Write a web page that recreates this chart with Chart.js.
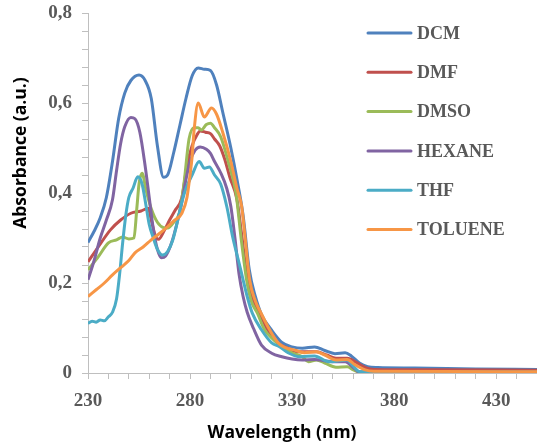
<!DOCTYPE html>
<html>
<head>
<meta charset="utf-8">
<script src="https://cdn.jsdelivr.net/npm/chart.js@4.4.1/dist/chart.umd.min.js"></script>
<style>
  html, body { margin: 0; padding: 0; background: #fff; }
  #wrap { width: 537px; height: 445px; position: relative; }
</style>
</head>
<body>
<div id="wrap"><canvas id="myChart"></canvas></div>
<script>
// data: [wavelength nm, absorbance]

const seriesNames = ["DCM", "DMF", "DMSO", "HEXANE", "THF", "TOLUENE"];
const seriesColors = ["#4F81BD", "#C0504D", "#9BBB59", "#8064A2", "#4BACC6", "#F79646"];

const DCM = [[230,0.29],[233,0.315],[236,0.345],[239,0.39],[242,0.47],[245,0.565],[248,0.622],[251,0.65],[255,0.662],[258,0.65],[261,0.61],[264,0.505],[267,0.435],[269,0.44],[272,0.49],[275,0.55],[278,0.61],[281,0.66],[284,0.678],[287,0.675],[290,0.672],[293,0.64],[296,0.58],[300,0.5],[303,0.43],[306,0.35],[309,0.23],[312,0.17],[315,0.13],[320,0.095],[325,0.068],[330,0.058],[335,0.055],[341,0.058],[346,0.05],[351,0.043],[356,0.045],[359,0.038],[363,0.022],[367,0.014],[372,0.012],[390,0.011],[420,0.009],[450,0.008]];

const DMF = [[230,0.247],[235,0.28],[241,0.318],[246,0.34],[251,0.355],[256,0.36],[259.5,0.366],[261,0.34],[263,0.305],[264.5,0.297],[267.5,0.318],[270,0.34],[272.5,0.36],[276,0.39],[278.5,0.46],[281,0.505],[283.5,0.53],[285,0.538],[287.5,0.535],[290,0.532],[292,0.52],[294.5,0.505],[297,0.475],[299.5,0.435],[303,0.385],[305.5,0.3],[308,0.21],[311,0.16],[314,0.133],[318,0.096],[323,0.067],[328,0.055],[333,0.047],[342,0.047],[347,0.04],[351.5,0.033],[357,0.033],[362,0.022],[366,0.012],[370,0.008],[400,0.007],[450,0.006]];

const DMSO = [[230,0.229],[235,0.258],[240,0.289],[244,0.296],[247,0.302],[250,0.298],[252.5,0.3],[254,0.37],[255,0.42],[256.5,0.444],[258.5,0.405],[261,0.365],[264,0.335],[267,0.323],[269,0.322],[272,0.335],[275,0.36],[277,0.42],[279.5,0.52],[282,0.545],[284,0.545],[285.5,0.54],[288,0.552],[290,0.555],[292,0.545],[295,0.525],[299,0.465],[302.5,0.4],[305,0.3],[307.7,0.207],[310,0.16],[313,0.133],[316.5,0.096],[320,0.078],[324,0.062],[330,0.045],[335,0.036],[338,0.025],[342,0.029],[346,0.022],[351.5,0.013],[357,0.014],[360,0.007],[363,0.002],[450,0.001]];

const HEXANE = [[230,0.207],[233,0.25],[236,0.3],[239,0.34],[242,0.385],[244,0.45],[246,0.51],[248,0.547],[251,0.568],[253,0.565],[255.4,0.535],[258,0.46],[260,0.39],[262,0.32],[264,0.275],[266,0.256],[268,0.26],[271,0.29],[274,0.34],[276,0.38],[278,0.43],[280,0.47],[282.5,0.495],[285,0.502],[288,0.497],[290,0.488],[292,0.47],[295,0.445],[298,0.41],[300,0.37],[302,0.3],[304,0.22],[306,0.17],[308,0.135],[311,0.1],[315,0.062],[320,0.044],[325,0.036],[330,0.031],[335,0.029],[341,0.03],[345,0.028],[350,0.025],[356,0.025],[358,0.02],[361,0.008],[363,0.002],[450,0.001]];

const THF = [[230,0.11],[232,0.115],[234,0.113],[236,0.118],[238,0.116],[240,0.125],[242,0.135],[244,0.165],[245.5,0.22],[247,0.29],[248.5,0.35],[250,0.39],[252,0.41],[254.4,0.436],[256.5,0.42],[258.5,0.37],[260,0.33],[262,0.3],[264,0.275],[266.5,0.262],[269,0.27],[271.5,0.295],[274,0.34],[276,0.38],[278,0.41],[281,0.44],[284.5,0.47],[287,0.455],[289.5,0.458],[292,0.44],[295,0.42],[298,0.37],[301,0.3],[304,0.245],[306,0.207],[308,0.17],[310.5,0.133],[315,0.096],[320,0.067],[324,0.058],[328,0.045],[334,0.036],[341,0.038],[348,0.025],[353,0.027],[357,0.029],[360,0.015],[363,0.003],[450,0.002]];

const TOLUENE = [[230,0.17],[234,0.185],[238,0.2],[242,0.218],[246.5,0.236],[250,0.25],[253,0.267],[257,0.28],[261,0.296],[265,0.31],[269,0.325],[272,0.338],[276,0.355],[278.5,0.39],[280,0.44],[281,0.48],[282,0.54],[284,0.6],[287,0.569],[290.5,0.589],[293,0.575],[296,0.535],[300,0.47],[303,0.41],[305.3,0.37],[307,0.3],[309.2,0.207],[312,0.16],[314.8,0.133],[319,0.096],[323.8,0.064],[332,0.05],[336,0.045],[341.8,0.047],[346,0.04],[351.5,0.029],[357,0.03],[361,0.018],[365.8,0.007],[370,0.004],[450,0.003]];

const allSeries = [DCM, DMF, DMSO, HEXANE, THF, TOLUENE];

const xMin = 230, xMax = 450, xStep = 10, xLabelEvery = 50;
const yMin = 0, yMax = 0.8, yStep = 0.04;

const xTitle = "Wavelength (nm)";
const yTitle = "Absorbance (a.u.)";

const tickFont = { family: "'Liberation Serif', serif", size: 19, weight: 'bold' };
const tickColor = "#595959";
const axisColor = "#BFBFBF";

function makeDataset(i) {
    return {
        label: seriesNames[i],
        data: allSeries[i].map(p => ({ x: p[0], y: p[1] })),
        borderColor: seriesColors[i],
        backgroundColor: seriesColors[i],
        borderWidth: 3,
        pointRadius: 0,
        fill: false,
        cubicInterpolationMode: 'monotone',
        order: seriesNames.length - i
    };
}

// legend + axis titles drawn on top of the chart
const extras = {
    id: 'extras',
    afterDraw(chart) {
        const c = chart.ctx;
        c.save();
        // legend
        c.font = "bold 18px 'Liberation Serif', serif";
        c.textBaseline = 'middle';
        c.textAlign = 'left';
        for (let i = 0; i < seriesNames.length; i++) {
            const y = 33 + i * 39.3;
            c.strokeStyle = seriesColors[i];
            c.lineWidth = 3;
            c.lineCap = 'round';
            c.beginPath();
            c.moveTo(368, y);
            c.lineTo(411, y);
            c.stroke();
            c.fillStyle = tickColor;
            c.fillText(seriesNames[i], 417, y + 1);
        }
        // axis titles
        c.fillStyle = "#000";
        c.font = "bold 17.5px 'Open Sans', sans-serif";
        c.textAlign = 'center';
        c.fillText(xTitle, 282, 433);
        c.translate(21, 153);
        c.rotate(-Math.PI / 2);
        c.fillText(yTitle, 0, 0);
        c.restore();
    }
};

const ctx = document.getElementById('myChart');

let chart1 = new Chart(ctx, {
    type: 'line',
    data: {
        datasets: allSeries.map((s, i) => makeDataset(i))
    },
    options: {
        responsive: true,
        maintainAspectRatio: false,
        animation: false,
        layout: { padding: { top: 13, right: 0, left: 0, bottom: 0 } },
        plugins: {
            legend: { display: false },
            tooltip: { enabled: false }
        },
        scales: {
            x: {
                type: 'linear',
                min: xMin,
                max: xMax,
                // fixed axis box, no extra room for label overhang
                afterFit: s => { s.height = 72; s.paddingLeft = 0; s.paddingRight = 0; },
                border: { color: axisColor, width: 1 },
                grid: { drawOnChartArea: false, drawTicks: true, tickLength: 6, color: axisColor },
                ticks: {
                    stepSize: xStep,
                    autoSkip: false,
                    maxRotation: 0,
                    padding: 11,
                    color: tickColor,
                    font: tickFont,
                    callback: v => ((v - xMin) % xLabelEvery === 0 ? String(v) : '')
                }
            },
            y: {
                min: yMin,
                max: yMax,
                afterFit: s => { s.width = 88; s.paddingTop = 0; s.paddingBottom = 0; },
                border: { color: axisColor, width: 1 },
                grid: { drawOnChartArea: false, drawTicks: true, tickLength: 6, color: axisColor },
                ticks: {
                    stepSize: yStep,
                    autoSkip: false,
                    padding: 10,
                    color: tickColor,
                    font: tickFont,
                    callback: v => {
                        const r = Math.round(v * 100);
                        if (r % 20 !== 0) return '';
                        return r === 0 ? '0' : (r / 100).toFixed(1).replace('.', ',');
                    }
                }
            }
        }
    },
    plugins: [extras]
});
</script>
</body>
</html>
